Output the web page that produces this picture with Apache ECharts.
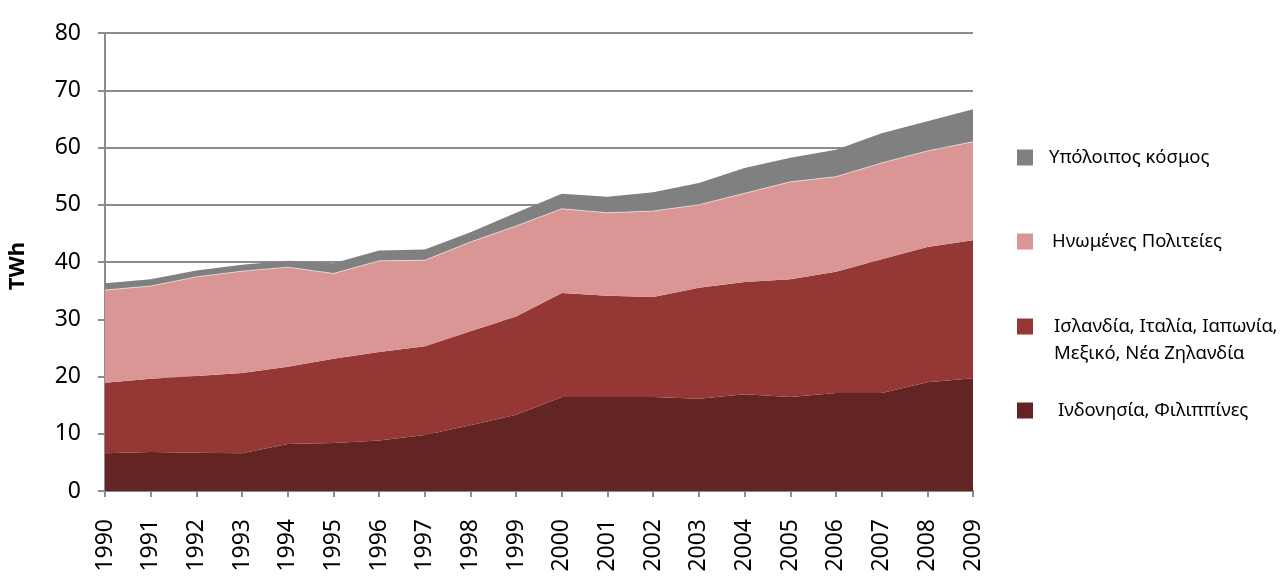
<!DOCTYPE html>
<html>
<head>
<meta charset="utf-8">
<script src="https://cdn.jsdelivr.net/npm/echarts@6/dist/echarts.min.js"></script>
<style>
html,body{margin:0;padding:0;background:#fff;}
#chart{width:1285px;height:585px;}
</style>
</head>
<body>
<div id="chart"></div>
<script>
const years = ['1990','1991','1992','1993','1994','1995','1996','1997','1998','1999','2000','2001','2002','2003','2004','2005','2006','2007','2008','2009'];
const yTicks = [0,10,20,30,40,50,60,70,80];
const nameIndo = 'Ινδονησία, Φιλιππίνες';
const nameIce = 'Ισλανδία, Ιταλία, Ιαπωνία,';
const nameIce2 = 'Μεξικό, Νέα Ζηλανδία';
const nameUS = 'Ηνωμένες Πολιτείες';
const nameRest = 'Υπόλοιπος κόσμος';
const indo = [6.6,6.8,6.7,6.6,8.2,8.4,8.8,9.8,11.5,13.3,16.4,16.4,16.4,16.1,16.9,16.4,17.1,17.1,19.0,19.7];
const ice  = [12.3,12.8,13.4,14.0,13.5,14.7,15.5,15.5,16.4,17.2,18.2,17.7,17.5,19.4,19.6,20.6,21.2,23.4,23.6,24.1];
const us   = [16.2,16.2,17.3,17.8,17.4,14.9,15.9,15.0,15.6,15.8,14.7,14.5,15.0,14.5,15.5,17.0,16.6,16.8,16.8,17.2];
const rest = [1.2,1.2,1.1,1.1,1.1,1.8,1.8,1.9,1.7,2.3,2.6,2.8,3.3,3.8,4.4,4.2,4.7,5.2,5.2,5.7];

const FONT = 'Noto Sans';
const colIndo = '#632523', colIce = '#953735', colUS = '#d99694', colRest = '#808080';

function legend(name, top, padLeft) {
  return {
    data: [name], left: 1017, top: top, orient: 'vertical',
    itemWidth: 16, itemHeight: 16, itemGap: 0, padding: 0,
    icon: 'rect', selectedMode: false,
    textStyle: { fontFamily: FONT, fontSize: 18.5, color: '#000', padding: [0,0,0,padLeft] }
  };
}

const chart = echarts.init(document.getElementById('chart'), null, {renderer: 'canvas'});
chart.setOption({
  animation: false,
  backgroundColor: '#fff',
  grid: { left: 105, right: 312, top: 33, bottom: 94, containLabel: false },
  legend: [
    legend(nameRest, 148, 11),
    legend(nameUS, 232, 14),
    legend(nameIce, 317, 16),
    legend(nameIndo, 401, 20)
  ],
  graphic: [
    { type: 'text', x: 18, y: 266, rotation: Math.PI/2,
      style: { text: 'TWh', fontFamily: FONT, fontSize: 22, fontWeight: 'bold', fill: '#000',
               textAlign: 'center', textVerticalAlign: 'middle' } },
    { type: 'text', x: 1054, y: 354,
      style: { text: nameIce2, fontFamily: FONT, fontSize: 18.5, fill: '#000', textVerticalAlign: 'middle' } }
  ],
  xAxis: {
    type: 'category', data: years, boundaryGap: false,
    axisLine: { lineStyle: { color: '#8c8c8c', width: 2 } },
    axisTick: { show: true, length: 6, alignWithLabel: true, lineStyle: { color: '#8c8c8c', width: 2 } },
    axisLabel: { rotate: 90, margin: 28, fontFamily: FONT, fontSize: 23, color: '#000', interval: 0 },
    splitLine: { show: false }
  },
  yAxis: {
    type: 'value', min: yTicks[0], max: yTicks[yTicks.length-1], interval: 10,
    axisLine: { show: true, lineStyle: { color: '#8c8c8c', width: 2 } },
    axisTick: { show: true, length: 7, lineStyle: { color: '#8c8c8c', width: 2 } },
    axisLabel: { margin: 24, fontFamily: FONT, fontSize: 23, color: '#000' },
    splitLine: { show: true, lineStyle: { color: '#8c8c8c', width: 2 } }
  },
  series: [
    { name: nameIndo, type: 'line', stack: 'total', data: indo, symbol: 'none',
      itemStyle: { color: colIndo }, lineStyle: { width: 0 }, areaStyle: { color: colIndo, opacity: 1 } },
    { name: nameIce, type: 'line', stack: 'total', data: ice, symbol: 'none',
      itemStyle: { color: colIce }, lineStyle: { width: 0 }, areaStyle: { color: colIce, opacity: 1 } },
    { name: nameUS, type: 'line', stack: 'total', data: us, symbol: 'none',
      itemStyle: { color: colUS }, lineStyle: { width: 0.8, color: 'rgba(255,255,255,0.7)' }, areaStyle: { color: colUS, opacity: 1 } },
    { name: nameRest, type: 'line', stack: 'total', data: rest, symbol: 'none',
      itemStyle: { color: colRest }, lineStyle: { width: 0 }, areaStyle: { color: colRest, opacity: 1 } }
  ]
});
</script>
</body>
</html>
